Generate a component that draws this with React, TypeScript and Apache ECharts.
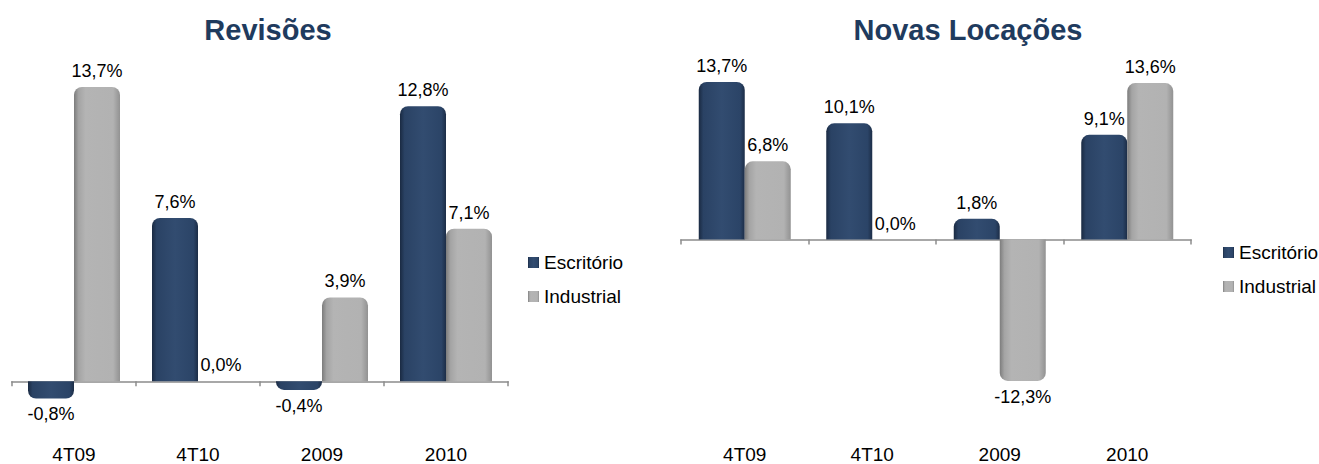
import React, { useEffect, useRef } from "react";
import * as echarts from "echarts";

const categories = ["4T09", "4T10", "2009", "2010"];
const seriesNames = ["Escritório", "Industrial"];
const chartTitles = ["Revisões", "Novas Locações"];
const revisoesEscritorio = [-0.8, 7.6, -0.4, 12.8];
const revisoesIndustrial = [13.7, 0.0, 3.9, 7.1];
const novasEscritorio = [13.7, 10.1, 1.8, 9.1];
const novasIndustrial = [6.8, 0.0, -12.3, 13.6];

const FONT = "'Liberation Sans', Arial, sans-serif";

const navyGrad = () =>
  new echarts.graphic.LinearGradient(0, 0, 1, 0, [
    { offset: 0, color: "#1a2a42" },
    { offset: 0.1, color: "#2a4264" },
    { offset: 0.5, color: "#324c70" },
    { offset: 0.9, color: "#2b4467" },
    { offset: 1, color: "#1c2d47" },
  ]);
const grayGrad = () =>
  new echarts.graphic.LinearGradient(0, 0, 1, 0, [
    { offset: 0, color: "#7c7c7c" },
    { offset: 0.1, color: "#a4a4a4" },
    { offset: 0.25, color: "#b4b4b4" },
    { offset: 0.85, color: "#b2b2b2" },
    { offset: 1, color: "#929292" },
  ]);

const fmt = (v: number) => v.toFixed(1).replace(".", ",") + "%";

const barData = (vals: number[]) =>
  vals.map((v) => ({
    value: v,
    itemStyle: { borderRadius: v >= 0 ? [8, 8, 0, 0] : [0, 0, 8, 8] },
    label: { position: v >= 0 ? "top" : "bottom" },
  }));

const makeSeries = (name: string, vals: number[], idx: number, color: any, bw: number) => ({
  name,
  type: "bar",
  xAxisIndex: idx * 2,
  yAxisIndex: idx,
  barWidth: bw,
  barGap: "0%",
  data: barData(vals),
  itemStyle: { color },
  label: {
    show: true,
    distance: 7,
    color: "#000",
    fontSize: 18,
    fontFamily: FONT,
    formatter: (p: any) => fmt(p.value),
  },
});

export default function App() {
  const ref = useRef<HTMLDivElement>(null);
  useEffect(() => {
    if (!ref.current) return;
    const chart = echarts.init(ref.current, undefined, { renderer: "svg" });
    const axisLineX = (gi: number) => ({
      type: "category",
      gridIndex: gi,
      data: categories,
      axisLine: { show: true, onZero: true, lineStyle: { color: "#a8a8a8", width: 2 } },
      axisTick: { show: true, length: 5, lineStyle: { color: "#8c8c8c", width: 1.5 } },
      axisLabel: { show: false },
    });
    const labelX = (gi: number) => ({
      type: "category",
      gridIndex: gi,
      data: categories,
      position: "bottom",
      axisLine: { show: false, onZero: false },
      axisTick: { show: false },
      axisLabel: { show: true, margin: 10, fontSize: 19, color: "#000", fontFamily: FONT },
    });
    const legendBase = {
      orient: "vertical",
      data: seriesNames,
      itemWidth: 11,
      itemHeight: 11,
      itemGap: 15,
      padding: 0,
      icon: "rect",
      textStyle: { fontSize: 19, color: "#000", fontFamily: FONT },
    };
    chart.setOption({
      animation: false,
      grid: [
        { left: 12, width: 496, top: 59, height: 378 },
        { left: 681, width: 510, top: 67, height: 369 },
      ],
      xAxis: [axisLineX(0), labelX(0), axisLineX(1), labelX(1)],
      yAxis: [
        { type: "value", gridIndex: 0, min: -2.5, max: 15, show: false, splitLine: { show: false } },
        { type: "value", gridIndex: 1, min: -17, max: 15, show: false, splitLine: { show: false } },
      ],
      legend: [
        { ...legendBase, left: 528, top: 253 },
        { ...legendBase, left: 1223, top: 243 },
      ],
      graphic: [
        {
          type: "text",
          x: 268,
          y: 30,
          style: {
            text: chartTitles[0],
            fill: "#1f3b5e",
            font: `bold 29px ${FONT}`,
            align: "center",
            verticalAlign: "middle",
            textAlign: "center",
            textVerticalAlign: "middle",
          },
        },
        {
          type: "text",
          x: 968,
          y: 30,
          style: {
            text: chartTitles[1],
            fill: "#1f3b5e",
            font: `bold 29px ${FONT}`,
            align: "center",
            verticalAlign: "middle",
            textAlign: "center",
            textVerticalAlign: "middle",
          },
        },
      ],
      series: [
        makeSeries(seriesNames[0], revisoesEscritorio, 0, navyGrad(), 46),
        makeSeries(seriesNames[1], revisoesIndustrial, 0, grayGrad(), 46),
        makeSeries(seriesNames[0], novasEscritorio, 1, navyGrad(), 46),
        makeSeries(seriesNames[1], novasIndustrial, 1, grayGrad(), 46),
      ],
    });
    return () => chart.dispose();
  }, []);
  return (
    <div
      ref={ref}
      style={{ position: "fixed", left: 0, top: 0, width: 1319, height: 464, background: "#fff" }}
    />
  );
}
